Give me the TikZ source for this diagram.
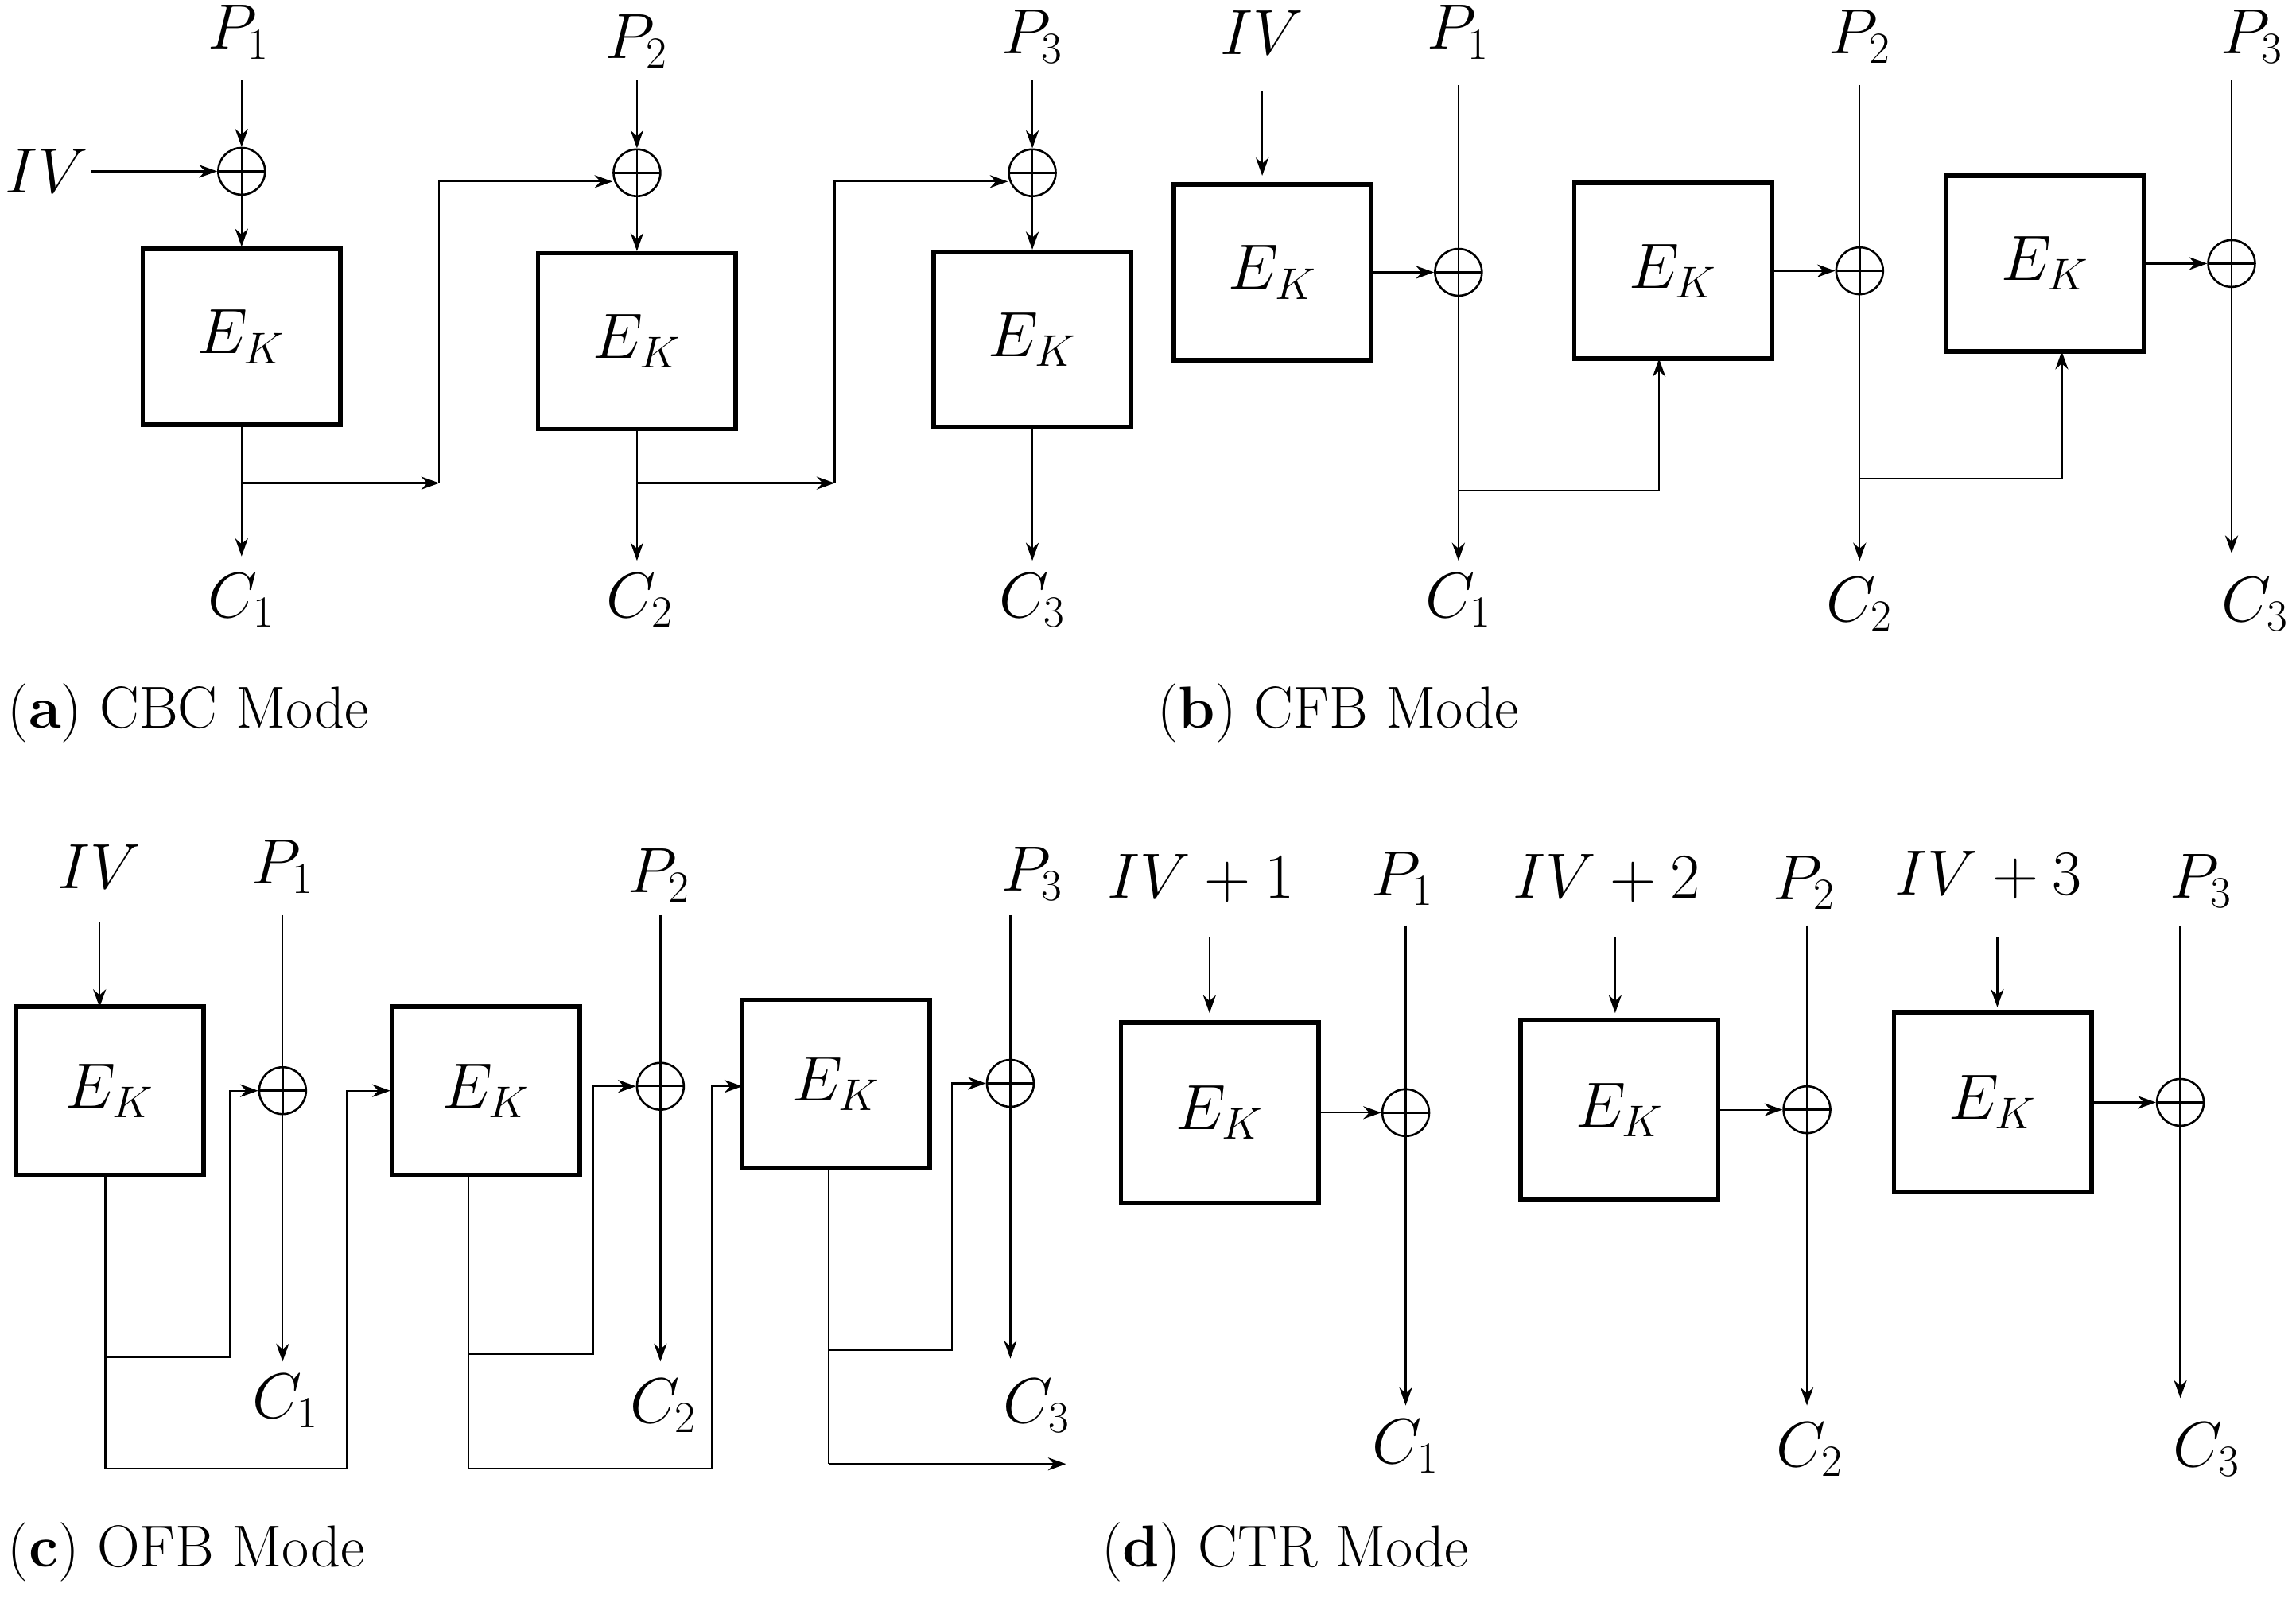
\documentclass[tikz,border=0pt]{standalone}
\usetikzlibrary{arrows.meta}
\begin{document}
\begin{tikzpicture}[x=0.02cm,y=-0.02cm,
  every node/.style={font=\fontsize{23}{28}\selectfont},
  lab/.style={inner sep=1pt},
  captxt/.style={anchor=west,inner sep=0pt,font=\fontsize{23}{27}\selectfont},
  box/.style={draw,line width=1.7pt,minimum width=2.7cm,minimum height=2.4cm,inner sep=0},
  obox/.style={draw,line width=1.7pt,minimum width=2.56cm,minimum height=2.3cm,inner sep=0},
  xor/.style={draw,circle,minimum size=0.64cm,inner sep=0,line width=0.8pt,
    path picture={\draw[line width=0.8pt] (path picture bounding box.north) -- (path picture bounding box.south)
      (path picture bounding box.west) -- (path picture bounding box.east);}},
  ar/.style={-{Stealth[length=7pt,width=5pt]},line width=0.7pt},
  ln/.style={line width=0.7pt}]
\useasboundingbox (0,0) rectangle (1568,1092);
% ---------- (a) CBC
\node[lab] (ap1) at (163,22) {$P_1$};
\node[lab] (ap2) at (435,28) {$P_2$};
\node[lab] (ap3) at (705,25) {$P_3$};
\node[lab] (aiv) at (32,117) {$IV$};
\node[xor] (ax1) at (165,117) {};
\node[xor] (ax2) at (435,118) {};
\node[xor] (ax3) at (705,118) {};
\node[box] (ab1) at (165,230) {$E_K$};
\node[box] (ab2) at (435,233) {$E_K$};
\node[box] (ab3) at (705,232) {$E_K$};
\node[lab] (ac1) at (165,410) {$C_1$};
\node[lab] (ac2) at (437,410) {$C_2$};
\node[lab] (ac3) at (705,410) {$C_3$};
\coordinate (ae1) at (165,380); \coordinate (ae2) at (435,383); \coordinate (ae3) at (705,383);
\coordinate (aj1) at (165,330); \coordinate (ak1) at (300,330); \coordinate (al1) at (300,124);
\coordinate (aj2) at (435,330); \coordinate (ak2) at (570,330); \coordinate (al2) at (570,124);
\draw[ar] (165,55) -- (ax1.north);
\draw[ar] (435,55) -- (ax2.north);
\draw[ar] (705,55) -- (ax3.north);
\draw[ar] (aiv.east) -- (ax1.west);
\draw[ar] (ax1.south) -- (ab1.north);
\draw[ar] (ax2.south) -- (ab2.north);
\draw[ar] (ax3.south) -- (ab3.north);
\draw[ar] (ab1.south) -- (ae1);
\draw[ar] (ab2.south) -- (ae2);
\draw[ar] (ab3.south) -- (ae3);
\draw[ar] (aj1) -- (ak1);
\draw[ar] (ak1) -- (al1) -- (al1 -| ax2.west);
\draw[ar] (aj2) -- (ak2);
\draw[ar] (ak2) -- (al2) -- (al2 -| ax3.west);
\node[captxt] at (5,487) {(\textbf{a}) CBC Mode};
% ---------- (b) CFB
\node[lab] (biv) at (862,22) {$IV$};
\node[lab] (bp1) at (996,22) {$P_1$};
\node[lab] (bp2) at (1270,25) {$P_2$};
\node[lab] (bp3) at (1538,25) {$P_3$};
\node[box] (bb1) at (869,186) {$E_K$};
\node[box] (bb2) at (1142.5,185) {$E_K$};
\node[box] (bb3) at (1396.5,180) {$E_K$};
\node[xor] (bx1) at (996,186) {};
\node[xor] (bx2) at (1270,185) {};
\node[xor] (bx3) at (1524,180) {};
\node[lab] (bc1) at (996,410) {$C_1$};
\node[lab] (bc2) at (1270,413) {$C_2$};
\node[lab] (bc3) at (1540,413) {$C_3$};
\draw[ar] (862,62) -- (862,120);
\draw[ar] (bb1.east) -- (bx1.west);
\draw[ar] (bb2.east) -- (bx2.west);
\draw[ar] (bb3.east) -- (bx3.west);
\draw[ar] (996,58) -- (996,383);
\draw[ar] (1270,58) -- (1270,383);
\draw[ar] (1524,55) -- (1524,378);
\draw[ar] (996,335) -- (1133,335) -- (1133,245);
\draw[ar] (1270,327) -- (1408,327) -- (1408,240);
\node[captxt] at (790,487) {(\textbf{b}) CFB Mode};
% ---------- (c) OFB
\node[lab] (civ) at (68,592) {$IV$};
\node[lab] (cp1) at (193,592) {$P_1$};
\node[lab] (cp2) at (450,598) {$P_2$};
\node[lab] (cp3) at (705,597) {$P_3$};
\node[obox] (cb1) at (75,745) {$E_K$};
\node[obox] (cb2) at (332,745) {$E_K$};
\node[obox] (cb3) at (571,740.5) {$E_K$};
\node[xor] (cx1) at (193,745) {};
\node[xor] (cx2) at (451,742) {};
\node[xor] (cx3) at (690,740) {};
\node[lab] (cc1) at (195,957) {$C_1$};
\node[lab] (cc2) at (453,960) {$C_2$};
\node[lab] (cc3) at (708,960) {$C_3$};
\draw[ar] (68,630) -- (68,688);
\draw[ar] (193,625) -- (193,930);
\draw[ar] (451,625) -- (451,930);
\draw[ar] (690,625) -- (690,928);
\draw[ln] (72,803) -- (72,1003);
\draw[ar] (72,927) -- (157,927) -- (157,745) -- (cx1.west);
\draw[ar] (72,1003) -- (237,1003) -- (237,745) -- (cb2.west);
\draw[ln] (320,803) -- (320,1003);
\draw[ar] (320,925) -- (405,925) -- (405,742) -- (cx2.west);
\draw[ar] (320,1003) -- (486,1003) -- (486,742) -- (507,742);
\draw[ln] (566,798) -- (566,1000);
\draw[ar] (566,922) -- (650,922) -- (650,740) -- (cx3.west);
\draw[ar] (566,1000) -- (728,1000);
\node[captxt] at (5,1060) {(\textbf{c}) OFB Mode};
% ---------- (d) CTR
\node[lab] (div1) at (820,600) {$IV+1$};
\node[lab] (div2) at (1097,600) {$IV+2$};
\node[lab] (div3) at (1358,598) {$IV+3$};
\node[lab] (dp1) at (958,600) {$P_1$};
\node[lab] (dp2) at (1232,603) {$P_2$};
\node[lab] (dp3) at (1503,602) {$P_3$};
\node[box,minimum height=2.46cm] (db1) at (833,760) {$E_K$};
\node[box,minimum height=2.46cm] (db2) at (1106,758) {$E_K$};
\node[box,minimum height=2.46cm] (db3) at (1361,753) {$E_K$};
\node[xor] (dx1) at (960,760) {};
\node[xor] (dx2) at (1234,758) {};
\node[xor] (dx3) at (1489,753) {};
\node[lab] (dc1) at (960,988) {$C_1$};
\node[lab] (dc2) at (1236,990) {$C_2$};
\node[lab] (dc3) at (1507,990) {$C_3$};
\draw[ar] (826,640) -- (826,692);
\draw[ar] (1103,640) -- (1103,692);
\draw[ar] (1364,640) -- (1364,688);
\draw[ar] (db1.east) -- (dx1.west);
\draw[ar] (db2.east) -- (dx2.west);
\draw[ar] (db3.east) -- (dx3.west);
\draw[ar] (960,632) -- (960,960);
\draw[ar] (1234,632) -- (1234,960);
\draw[ar] (1489,632) -- (1489,955);
\node[captxt] at (752,1060) {(\textbf{d}) CTR Mode};
\end{tikzpicture}
\end{document}
